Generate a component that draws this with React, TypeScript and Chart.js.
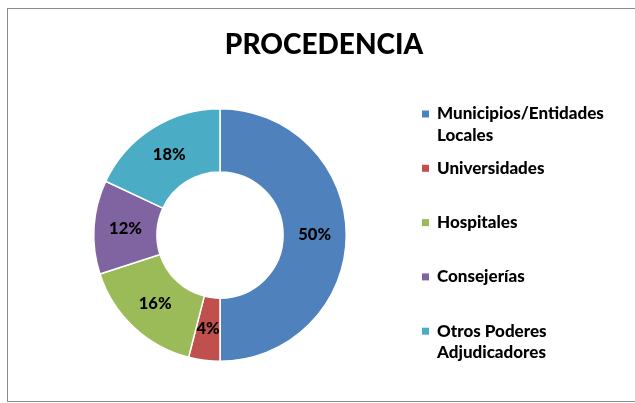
import React, { useEffect, useRef } from "react";
import { Chart, registerables } from "chart.js";

Chart.register(...registerables);

const chartTitle = "PROCEDENCIA";
const categories = [
  "Municipios/Entidades Locales",
  "Universidades",
  "Hospitales",
  "Consejerías",
  "Otros Poderes Adjudicadores",
];
const values = [50, 4, 16, 12, 18];
const percentLabels = ["50%", "4%", "16%", "12%", "18%"];
const colors = ["#4F81BD", "#C0504D", "#9BBB59", "#8064A2", "#4BACC6"];

const FONT = "Lato, 'Open Sans', sans-serif";

function wrap(ctx: CanvasRenderingContext2D, text: string, maxW: number): string[] {
  const words = text.split(" ");
  const lines: string[] = [];
  let cur = "";
  for (const w of words) {
    const t = cur ? cur + " " + w : w;
    if (cur && ctx.measureText(t).width > maxW) {
      lines.push(cur);
      cur = w;
    } else {
      cur = t;
    }
  }
  if (cur) lines.push(cur);
  return lines;
}

const decorPlugin = {
  id: "decor",
  afterDraw(chart: any) {
    const ctx: CanvasRenderingContext2D = chart.ctx;
    ctx.save();
    // title
    ctx.fillStyle = "#000";
    ctx.font = `900 28px ${FONT}`;
    ctx.textAlign = "center";
    ctx.textBaseline = "middle";
    ctx.fillText(chartTitle, 324, 45);

    // data labels
    const meta = chart.getDatasetMeta(0);
    ctx.font = `900 16.5px ${FONT}`;
    meta.data.forEach((arc: any, i: number) => {
      const p = arc.tooltipPosition();
      ctx.fillText(percentLabels[i], p.x, p.y);
    });

    // legend
    ctx.textAlign = "left";
    ctx.font = `900 17px ${FONT}`;
    const labels: string[] = chart.data.labels;
    const bg: string[] = chart.data.datasets[0].backgroundColor;
    let y = 114;
    labels.forEach((lab, i) => {
      ctx.fillStyle = bg[i];
      ctx.fillRect(422, y - 3.5, 7, 7);
      ctx.fillStyle = "#000";
      const lines = wrap(ctx, lab, 185);
      lines.forEach((ln, k) => {
        ctx.fillText(ln, 437, y + k * 21.5);
      });
      y += 54.3;
    });
    ctx.restore();
  },
};

export default function App() {
  const ref = useRef<HTMLCanvasElement>(null);
  useEffect(() => {
    if (!ref.current) return;
    const chart = new Chart(ref.current, {
      type: "doughnut",
      data: {
        labels: categories,
        datasets: [
          {
            data: values,
            backgroundColor: colors,
            borderColor: "#ffffff",
            borderWidth: 1.5,
          },
        ],
      },
      options: {
        responsive: false,
        animation: false,
        cutout: "50%",
        layout: { padding: { left: 93, right: 288, top: 108, bottom: 41 } },
        plugins: {
          legend: { display: false },
          title: { display: false },
          tooltip: { enabled: false },
        },
      },
      plugins: [decorPlugin],
    });
    return () => chart.destroy();
  }, []);
  return (
    <div
      style={{
        position: "fixed",
        left: 0,
        top: 0,
        width: 635,
        height: 403,
        background: "#fff",
        overflow: "hidden",
      }}
    >
      <div
        style={{
          position: "absolute",
          left: 7,
          top: 8,
          width: 650,
          height: 392,
          border: "1.5px solid #8c8c8c",
        }}
      />
      <canvas
        ref={ref}
        width={635}
        height={403}
        style={{ position: "absolute", left: 0, top: 0, width: 635, height: 403 }}
      />
    </div>
  );
}
